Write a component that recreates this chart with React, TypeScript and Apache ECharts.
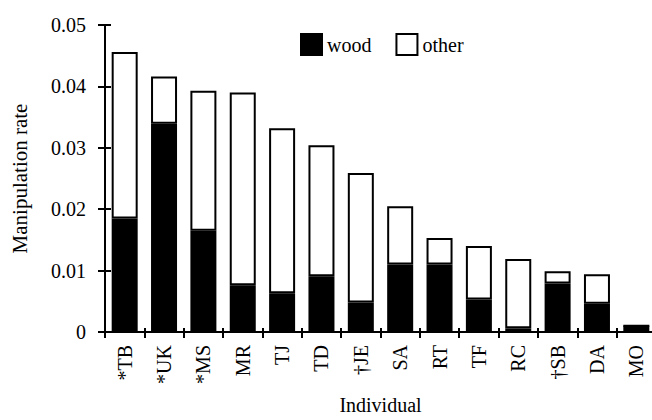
import React, { useEffect, useRef } from "react";
import * as echarts from "echarts";

const categories = ["*TB", "*UK", "*MS", "MR", "TJ", "TD", "\u2020JE", "SA", "RT", "TF", "RC", "\u2020SB", "DA", "MO"];
const totalRate = [0.0456, 0.0416, 0.0393, 0.039, 0.0332, 0.0304, 0.0259, 0.0205, 0.0153, 0.014, 0.0119, 0.0099, 0.0094, 0.001];
const woodRate = [0.0185, 0.0339, 0.0165, 0.0076, 0.0063, 0.0091, 0.0048, 0.011, 0.011, 0.0053, 0.0006, 0.0079, 0.0046, 0.001];
const otherRate = totalRate.map((t, i) => Math.max(0, +(t - woodRate[i]).toFixed(4)));
const yTicks = { min: 0, max: 0.05, interval: 0.01 };

const FONT = "'Liberation Serif', 'DejaVu Serif', serif";

export default function App() {
  const ref = useRef<HTMLDivElement>(null);
  useEffect(() => {
    if (!ref.current) return;
    const chart = echarts.init(ref.current, null, { renderer: "svg" });
    const grid = { left: 105, top: 25, width: 551, height: 307, outerBoundsMode: "none", containLabel: false };
    const yBase = {
      type: "value" as const,
      min: yTicks.min,
      max: yTicks.max,
      interval: yTicks.interval,
      splitLine: { show: false },
    };
    const xBase = {
      type: "category" as const,
      data: categories,
      boundaryGap: true,
    };
    chart.setOption({
      animation: false,
      backgroundColor: "#fff",
      grid,
      legend: {
        left: 295,
        top: 28,
        itemWidth: 21,
        itemHeight: 21,
        itemGap: 24,
        itemTextGap: 8,
        icon: "rect",
        textStyle: { fontFamily: FONT, fontSize: 20, color: "#000" },
        data: ["wood", "other"],
      },
      xAxis: [
        {
          ...xBase,
          position: "bottom",
          axisLine: { show: true, lineStyle: { color: "#000", width: 2 } },
          axisTick: { show: true, length: 6, lineStyle: { color: "#000", width: 2 } },
          axisLabel: {
            rotate: 90,
            margin: 13,
            fontFamily: FONT,
            fontSize: 20,
            color: "#000",
          },
          name: "Individual",
          nameLocation: "middle",
          nameGap: 63,
          nameTextStyle: { fontFamily: FONT, fontSize: 20, color: "#000", lineHeight: 20 },
        },
        {
          ...xBase,
          position: "bottom",
          axisLine: { show: false },
          axisTick: { show: true, inside: true, length: 4, lineStyle: { color: "#000", width: 2 } },
          axisLabel: { show: false },
        },
      ],
      yAxis: [
        {
          ...yBase,
          axisLine: { show: true, lineStyle: { color: "#000", width: 2 } },
          axisTick: { show: true, length: 7, lineStyle: { color: "#000", width: 2 } },
          axisLabel: {
            margin: 19,
            fontFamily: FONT,
            fontSize: 20,
            color: "#000",
            formatter: (v: number) => (v === 0 ? "0" : v.toFixed(2)),
          },
          name: "Manipulation rate",
          nameLocation: "middle",
          nameGap: 75,
          nameTextStyle: { fontFamily: FONT, fontSize: 21, color: "#000" },
        },
        {
          ...yBase,
          position: "left",
          axisLine: { show: false },
          axisTick: { show: true, inside: true, length: 6, lineStyle: { color: "#000", width: 2 } },
          axisLabel: { show: false },
        },
      ],
      series: [
        {
          name: "wood",
          type: "bar",
          stack: "rate",
          barWidth: 26,
          data: woodRate,
          itemStyle: { color: "#000", borderColor: "#000", borderWidth: 2 },
        },
        {
          name: "other",
          type: "bar",
          stack: "rate",
          barWidth: 26,
          data: otherRate,
          itemStyle: { color: "#fff", borderColor: "#000", borderWidth: 2 },
        },
      ],
    });
    return () => chart.dispose();
  }, []);
  return <div ref={ref} style={{ width: 652, height: 420, position: "absolute", left: 0, top: 0 }} />;
}
